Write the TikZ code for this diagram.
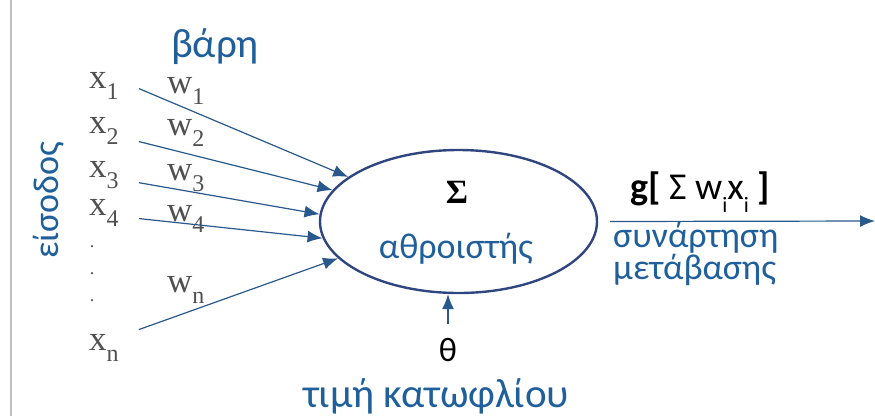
\documentclass[tikz,border=0pt]{standalone}
\usepackage{fontspec}
\setmainfont{Liberation Serif}
\newfontfamily\grk{Carlito}
\usepackage{xcolor}
\usetikzlibrary{arrows.meta,shapes.geometric}

\definecolor{txtblue}{RGB}{31,95,155}
\definecolor{lineblue}{RGB}{40,88,140}
\definecolor{ellblue}{RGB}{48,70,128}
\definecolor{lblgray}{RGB}{80,80,80}

\newcommand{\lowidx}[1]{\raisebox{-0.32em}{\fontsize{24}{26}\selectfont #1}}
\newcommand{\tinyidx}[1]{\raisebox{-0.35em}{\fontsize{22}{24}\selectfont #1}}

\begin{document}
\begin{tikzpicture}[x=1pt,y=-1pt,
  inp/.style={text=lblgray,font=\fontsize{35}{38}\selectfont,inner sep=0pt,anchor=base west},
  bl/.style={text=txtblue,font=\grk\fontsize{36}{40}\selectfont,inner sep=0pt},
  arr/.style={draw=lineblue,line width=1.2pt,-{Latex[length=15pt,width=12pt]}}]
\useasboundingbox (0,0) rectangle (875,416);
\draw[black!25,line width=2pt] (11,0) -- (11,416);

% inputs
\node[inp] (x1) at (89,88) {x\lowidx{1}};
\node[inp] (x2) at (89,133) {x\lowidx{2}};
\node[inp] (x3) at (89,177) {x\lowidx{3}};
\node[inp] (x4) at (89,215) {x\lowidx{4}};
\node[inp] (xn) at (89,350) {x\lowidx{n}};
\node[circle,fill=lblgray,inner sep=0pt,minimum size=2.5pt] (d1) at (92,246) {};
\node[circle,fill=lblgray,inner sep=0pt,minimum size=2.5pt] (d2) at (92,273) {};
\node[circle,fill=lblgray,inner sep=0pt,minimum size=2.5pt] (d3) at (92,300) {};

% weights
\node[inp] (w1) at (167,93) {w\lowidx{1}};
\node[inp] (w2) at (167,135) {w\lowidx{2}};
\node[inp] (w3) at (167,180) {w\lowidx{3}};
\node[inp] (w4) at (167,221) {w\lowidx{4}};
\node[inp] (wn) at (167,292) {w\lowidx{n}};

\node[bl,font=\grk\fontsize{41}{44}\selectfont] (weights) at (215,47) {βάρη};
\node[bl,rotate=90] (input) at (49,200) {είσοδος};

% summing unit
\node[draw=ellblue,line width=2.4pt,ellipse,minimum width=277pt,minimum height=143pt,inner sep=0pt] (sum) at (458.5,221.5) {};
\node[font=\bfseries\fontsize{34}{36}\selectfont,inner sep=0pt] (sigma) at (457,192) {Σ};
\node[bl,anchor=base] (adder) at (456,258) {αθροιστής};

\draw[arr] ([shift={(20,3)}]x1.east) -- (sum.158.7);
\draw[arr] ([shift={(20,11)}]x2.east) -- (sum.166.3);
\draw[arr] ([shift={(20,8)}]x3.east) -- (sum.177);
\draw[arr] ([shift={(20,6)}]x4.east) -- (sum.187.4);
\draw[arr] ([shift={(20,-18)}]xn.east) -- (sum.197.4);

% threshold
\node[font=\grk\fontsize{34}{36}\selectfont,inner sep=0pt] (theta) at (448,350) {θ};
\node[bl,font=\grk\fontsize{41}{44}\selectfont] (thrlabel) at (436,396) {τιμή κατωφλίου};
\draw[arr] ([yshift=14pt]theta.north) -- (theta.north |- sum.south);

% output
\coordinate (out) at (875,221);
\draw[arr] ([xshift=12pt]sum.east) -- (out);
\node[font=\grk\fontsize{38}{40}\selectfont,inner sep=0pt,anchor=base west] (gfun) at (630,199)
  {\textbf{g[} Σ w\tinyidx{i}x\tinyidx{i} \textbf{]}};
\node[bl,anchor=base west] (trans1) at (613,247) {συνάρτηση};
\node[bl,anchor=base west] (trans2) at (613,279) {μετάβασης};
\end{tikzpicture}
\end{document}
